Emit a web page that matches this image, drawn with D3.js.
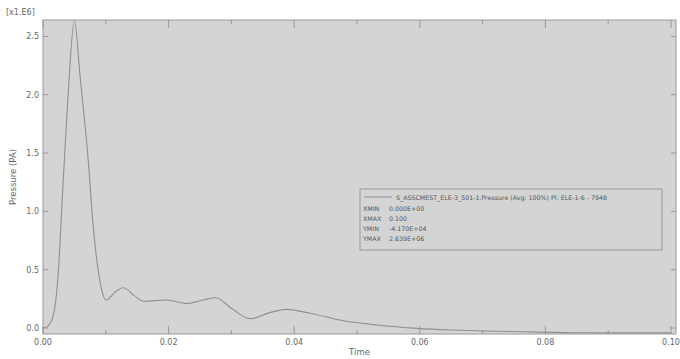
<!DOCTYPE html>
<html><head><meta charset="utf-8">
<script src="https://cdn.jsdelivr.net/npm/d3@7"></script>
<style>body{margin:0;background:#fff}svg{display:block;font-family:"DejaVu Sans",sans-serif}</style>
</head><body><svg id="c" width="680" height="359"></svg>
<script>
const times = [0,0.0006,0.0016,0.0024,0.0032,0.004,0.005,0.0059,0.0072,0.008,0.0091,0.0101,0.0115,0.0128,0.0145,0.016,0.0197,0.0229,0.0255,0.0275,0.030,0.033,0.036,0.0388,0.0425,0.0478,0.0532,0.0596,0.0649,0.075,0.085,0.1];
const pressure = [0,0.01,0.1,0.45,1.24,2.0,2.639,2.16,1.44,0.87,0.39,0.24,0.31,0.345,0.28,0.23,0.24,0.21,0.24,0.26,0.17,0.08,0.13,0.16,0.127,0.063,0.026,-0.003,-0.017,-0.03,-0.04,-0.0417];
const xTicks = [0,0.02,0.04,0.06,0.08,0.10];
const xMinor = [0.01,0.03,0.05,0.07,0.09];
const yTicks = [0,0.5,1.0,1.5,2.0,2.5];
const legendTitle = "S_ASSCMEST_ELE-3_501-1.Pressure (Avg: 100%) PI: ELE-1-6 - 7948";
const legendKeys = ["XMIN","XMAX","YMIN","YMAX"];
const legendVals = ["0.000E+00","0.100","-4.170E+04","2.639E+06"];

const svg = d3.select("#c");
const L=43,R=676,T=20,B=334;
const x = d3.scaleLinear().domain([0,0.1008]).range([L,R]);
const y = d3.scaleLinear().domain([-0.051,2.641]).range([B,T]);
const txt="#666", grid="#8a8a8a";

svg.append("rect").attr("x",L).attr("y",T).attr("width",R-L).attr("height",B-T).attr("fill","#d4d4d4").attr("stroke","#9a9a9a");

// ticks
const tk = svg.append("g").attr("stroke",grid).attr("stroke-width",0.8);
xTicks.forEach(v=>{tk.append("line").attr("x1",x(v)).attr("x2",x(v)).attr("y1",B).attr("y2",B-8);tk.append("line").attr("x1",x(v)).attr("x2",x(v)).attr("y1",T).attr("y2",T+8);});
xMinor.forEach(v=>{tk.append("line").attr("x1",x(v)).attr("x2",x(v)).attr("y1",B).attr("y2",B-4);tk.append("line").attr("x1",x(v)).attr("x2",x(v)).attr("y1",T).attr("y2",T+4);});
yTicks.forEach(v=>{tk.append("line").attr("x1",L).attr("x2",L+5).attr("y1",y(v)).attr("y2",y(v));tk.append("line").attr("x1",R).attr("x2",R-5).attr("y1",y(v)).attr("y2",y(v));});

svg.append("g").selectAll("text").data(xTicks).join("text")
 .attr("x",d=>x(d)).attr("y",B+11).attr("text-anchor","middle").attr("font-size",8).attr("fill",txt).text(d=>d.toFixed(2));
svg.append("g").selectAll("text").data(yTicks).join("text")
 .attr("x",L-4).attr("y",d=>y(d)+3).attr("text-anchor","end").attr("font-size",8).attr("fill",txt).text(d=>d.toFixed(1));
svg.append("text").attr("x",6).attr("y",15).attr("font-size",8).attr("fill",txt).text("[x1.E6]");
svg.append("text").attr("transform","translate(16,"+((T+B)/2)+") rotate(-90)").attr("text-anchor","middle").attr("font-size",8.5).attr("fill",txt).text("Pressure  (PA)");
svg.append("text").attr("x",(L+R)/2).attr("y",355).attr("text-anchor","middle").attr("font-size",8.5).attr("fill",txt).text("Time");

const line = d3.line().x((d,i)=>x(times[i])).y(d=>y(d)).curve(d3.curveMonotoneX);
svg.append("path").attr("d",line(pressure)).attr("fill","none").attr("stroke","#8f8f8f").attr("stroke-width",1.1);

// legend
const lg = svg.append("g");
lg.append("rect").attr("x",360).attr("y",189).attr("width",302).attr("height",61).attr("fill","#d4d4d4").attr("stroke","#8a8a8a").attr("stroke-width",0.8);
lg.append("line").attr("x1",364).attr("x2",392).attr("y1",197).attr("y2",197).attr("stroke","#8f8f8f");
lg.append("text").attr("x",396).attr("y",200).attr("font-size",6.3).attr("fill","#555").text(legendTitle);
legendKeys.forEach((k,i)=>{
 lg.append("text").attr("x",363).attr("y",211+i*10).attr("font-size",6.3).attr("fill","#555").text(k);
 lg.append("text").attr("x",389).attr("y",211+i*10).attr("font-size",6.3).attr("fill","#555").text(legendVals[i]);
});
</script></body></html>
